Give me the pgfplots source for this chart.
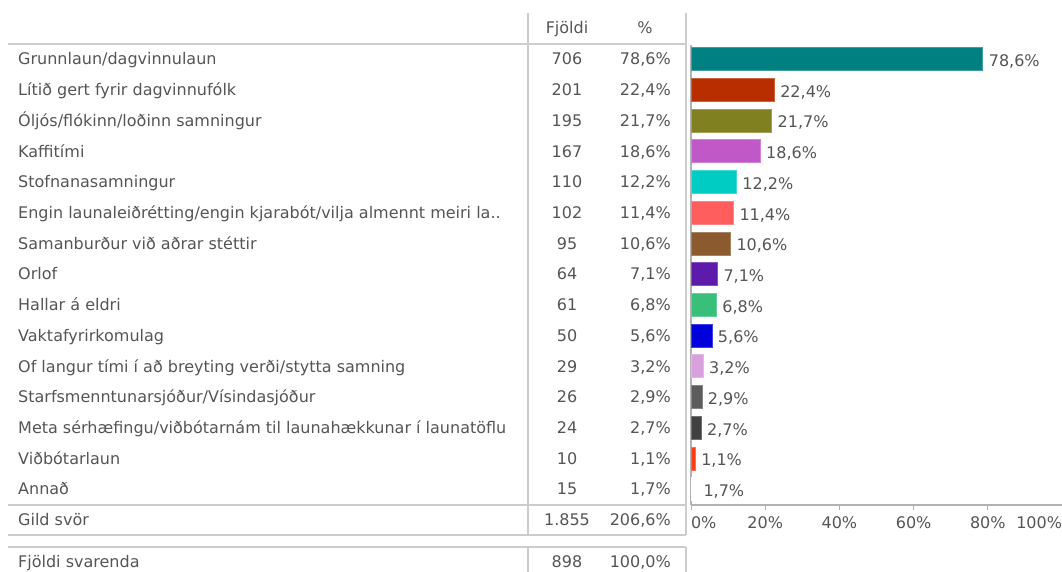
\documentclass[border=0pt]{standalone}
\usepackage{pgfplots}
\pgfplotsset{compat=1.18}
\usepackage{fontspec}
\setmainfont{DejaVu Sans}
\definecolor{txt}{HTML}{555555}
\definecolor{grid}{HTML}{CCCCCC}
\definecolor{c1}{HTML}{008080}
\definecolor{c2}{HTML}{B82E00}
\definecolor{c3}{HTML}{808020}
\definecolor{c4}{HTML}{C058C8}
\definecolor{c5}{HTML}{00CCC4}
\definecolor{c6}{HTML}{FF5E5E}
\definecolor{c7}{HTML}{8B5A2E}
\definecolor{c8}{HTML}{5E1AAA}
\definecolor{c9}{HTML}{38C07A}
\definecolor{c10}{HTML}{0000DD}
\definecolor{c11}{HTML}{D8A0DC}
\definecolor{c12}{HTML}{5C5C5C}
\definecolor{c13}{HTML}{404040}
\definecolor{c14}{HTML}{FF3C14}
\definecolor{c15}{HTML}{FFFFFF}
\newcommand{\tf}{\fontsize{16bp}{19bp}\selectfont}
\begin{document}
\begin{tikzpicture}[x=1bp,y=-1bp,font=\tf,text=txt]
\useasboundingbox (0,0) rectangle (1062,572);
% table grid
\draw[grid,line width=1.2bp] (8,44) -- (686,44);
\draw[grid,line width=1.2bp] (8,505) -- (686,505);
\draw[grid,line width=1.2bp] (8,535) -- (686,535);
\draw[grid,line width=1.2bp] (8,547) -- (686,547);
\draw[grid,line width=1.2bp] (528,13) -- (528,535);
\draw[grid,line width=1.2bp] (528,547) -- (528,572);
\draw[grid,line width=1.2bp] (686,13) -- (686,535);
\draw[grid,line width=1.2bp] (686,547) -- (686,572);
% header
\node[anchor=base] at (567,34) {Fjöldi};
\node[anchor=base] at (645,34) {\%};
% rows
\node[anchor=base west,inner sep=0] at (18,65) {Grunnlaun/dagvinnulaun};
\node[anchor=base] at (567,65) {706};
\node[anchor=base east,inner sep=0] at (671,65) {78,6\%};
\node[anchor=base west,inner sep=0] at (18,95.7) {Lítið gert fyrir dagvinnufólk};
\node[anchor=base] at (567,95.7) {201};
\node[anchor=base east,inner sep=0] at (671,95.7) {22,4\%};
\node[anchor=base west,inner sep=0] at (18,126.4) {Óljós/flókinn/loðinn samningur};
\node[anchor=base] at (567,126.4) {195};
\node[anchor=base east,inner sep=0] at (671,126.4) {21,7\%};
\node[anchor=base west,inner sep=0] at (18,157.1) {Kaffitími};
\node[anchor=base] at (567,157.1) {167};
\node[anchor=base east,inner sep=0] at (671,157.1) {18,6\%};
\node[anchor=base west,inner sep=0] at (18,187.8) {Stofnanasamningur};
\node[anchor=base] at (567,187.8) {110};
\node[anchor=base east,inner sep=0] at (671,187.8) {12,2\%};
\node[anchor=base west,inner sep=0] at (18,218.5) {Engin launaleiðrétting/engin kjarabót/vilja almennt meiri la..};
\node[anchor=base] at (567,218.5) {102};
\node[anchor=base east,inner sep=0] at (671,218.5) {11,4\%};
\node[anchor=base west,inner sep=0] at (18,249.2) {Samanburður við aðrar stéttir};
\node[anchor=base] at (567,249.2) {95};
\node[anchor=base east,inner sep=0] at (671,249.2) {10,6\%};
\node[anchor=base west,inner sep=0] at (18,279.9) {Orlof};
\node[anchor=base] at (567,279.9) {64};
\node[anchor=base east,inner sep=0] at (671,279.9) {7,1\%};
\node[anchor=base west,inner sep=0] at (18,310.6) {Hallar á eldri};
\node[anchor=base] at (567,310.6) {61};
\node[anchor=base east,inner sep=0] at (671,310.6) {6,8\%};
\node[anchor=base west,inner sep=0] at (18,341.3) {Vaktafyrirkomulag};
\node[anchor=base] at (567,341.3) {50};
\node[anchor=base east,inner sep=0] at (671,341.3) {5,6\%};
\node[anchor=base west,inner sep=0] at (18,372) {Of langur tími í að breyting verði/stytta samning};
\node[anchor=base] at (567,372) {29};
\node[anchor=base east,inner sep=0] at (671,372) {3,2\%};
\node[anchor=base west,inner sep=0] at (18,402.7) {Starfsmenntunarsjóður/Vísindasjóður};
\node[anchor=base] at (567,402.7) {26};
\node[anchor=base east,inner sep=0] at (671,402.7) {2,9\%};
\node[anchor=base west,inner sep=0] at (18,433.4) {Meta sérhæfingu/viðbótarnám til launahækkunar í launatöflu};
\node[anchor=base] at (567,433.4) {24};
\node[anchor=base east,inner sep=0] at (671,433.4) {2,7\%};
\node[anchor=base west,inner sep=0] at (18,464.1) {Viðbótarlaun};
\node[anchor=base] at (567,464.1) {10};
\node[anchor=base east,inner sep=0] at (671,464.1) {1,1\%};
\node[anchor=base west,inner sep=0] at (18,494.8) {Annað};
\node[anchor=base] at (567,494.8) {15};
\node[anchor=base east,inner sep=0] at (671,494.8) {1,7\%};
% totals
\node[anchor=base west,inner sep=0] at (18,525) {Gild svör};
\node[anchor=base] at (567,525) {1.855};
\node[anchor=base east,inner sep=0] at (671,525) {206,6\%};
\node[anchor=base west,inner sep=0] at (18,567) {Fjöldi svarenda};
\node[anchor=base] at (567,567) {898};
\node[anchor=base east,inner sep=0] at (671,567) {100,0\%};
% bars
\begin{axis}[
  at={(691bp,-45bp)}, anchor=north west,
  scale only axis, width=371bp, height=460bp,
  xmin=0, xmax=100, ymin=-0.52, ymax=14.456,
  xbar, bar shift=0pt, bar width=23bp,
  axis x line*=bottom, axis y line*=left,
  axis line style={draw=black!30,line width=1.2bp},
  ytick=\empty,
  xtick={0,20,40,60,80,100},
  xticklabels={\makebox[0pt][l]{0\%},20\%,40\%,60\%,80\%,\makebox[0pt][r]{100\%}},
  tick style={draw=black!30,line width=1bp},
  major tick length=5bp, tick align=outside,
  xticklabel style={font=\tf,text=txt,yshift=-3bp},
  clip=false,
  point meta=x,
  nodes near coords={\pgfmathprintnumber[fixed,fixed zerofill,precision=1,use comma,assume math mode=true]{\pgfplotspointmeta}\%},
  every node near coord/.append style={font=\tf,text=txt,anchor=west,inner sep=2bp,xshift=4bp,yshift=-2.5bp},
]
\addplot[fill=c1,draw=c1!75!white] coordinates {(78.6,14)};
\addplot[fill=c2,draw=c2!75!white] coordinates {(22.4,13)};
\addplot[fill=c3,draw=c3!75!white] coordinates {(21.7,12)};
\addplot[fill=c4,draw=c4!75!white] coordinates {(18.6,11)};
\addplot[fill=c5,draw=c5!75!white] coordinates {(12.2,10)};
\addplot[fill=c6,draw=c6!75!white] coordinates {(11.4,9)};
\addplot[fill=c7,draw=c7!75!white] coordinates {(10.6,8)};
\addplot[fill=c8,draw=c8!75!white] coordinates {(7.1,7)};
\addplot[fill=c9,draw=c9!75!white] coordinates {(6.8,6)};
\addplot[fill=c10,draw=c10!75!white] coordinates {(5.6,5)};
\addplot[fill=c11,draw=c11!75!white] coordinates {(3.2,4)};
\addplot[fill=c12,draw=c12!75!white] coordinates {(2.9,3)};
\addplot[fill=c13,draw=c13!75!white] coordinates {(2.7,2)};
\addplot[fill=c14,draw=c14!75!white] coordinates {(1.1,1)};
\addplot[fill=c15,draw=c15] coordinates {(1.7,0)};
\end{axis}
\end{tikzpicture}
\end{document}
